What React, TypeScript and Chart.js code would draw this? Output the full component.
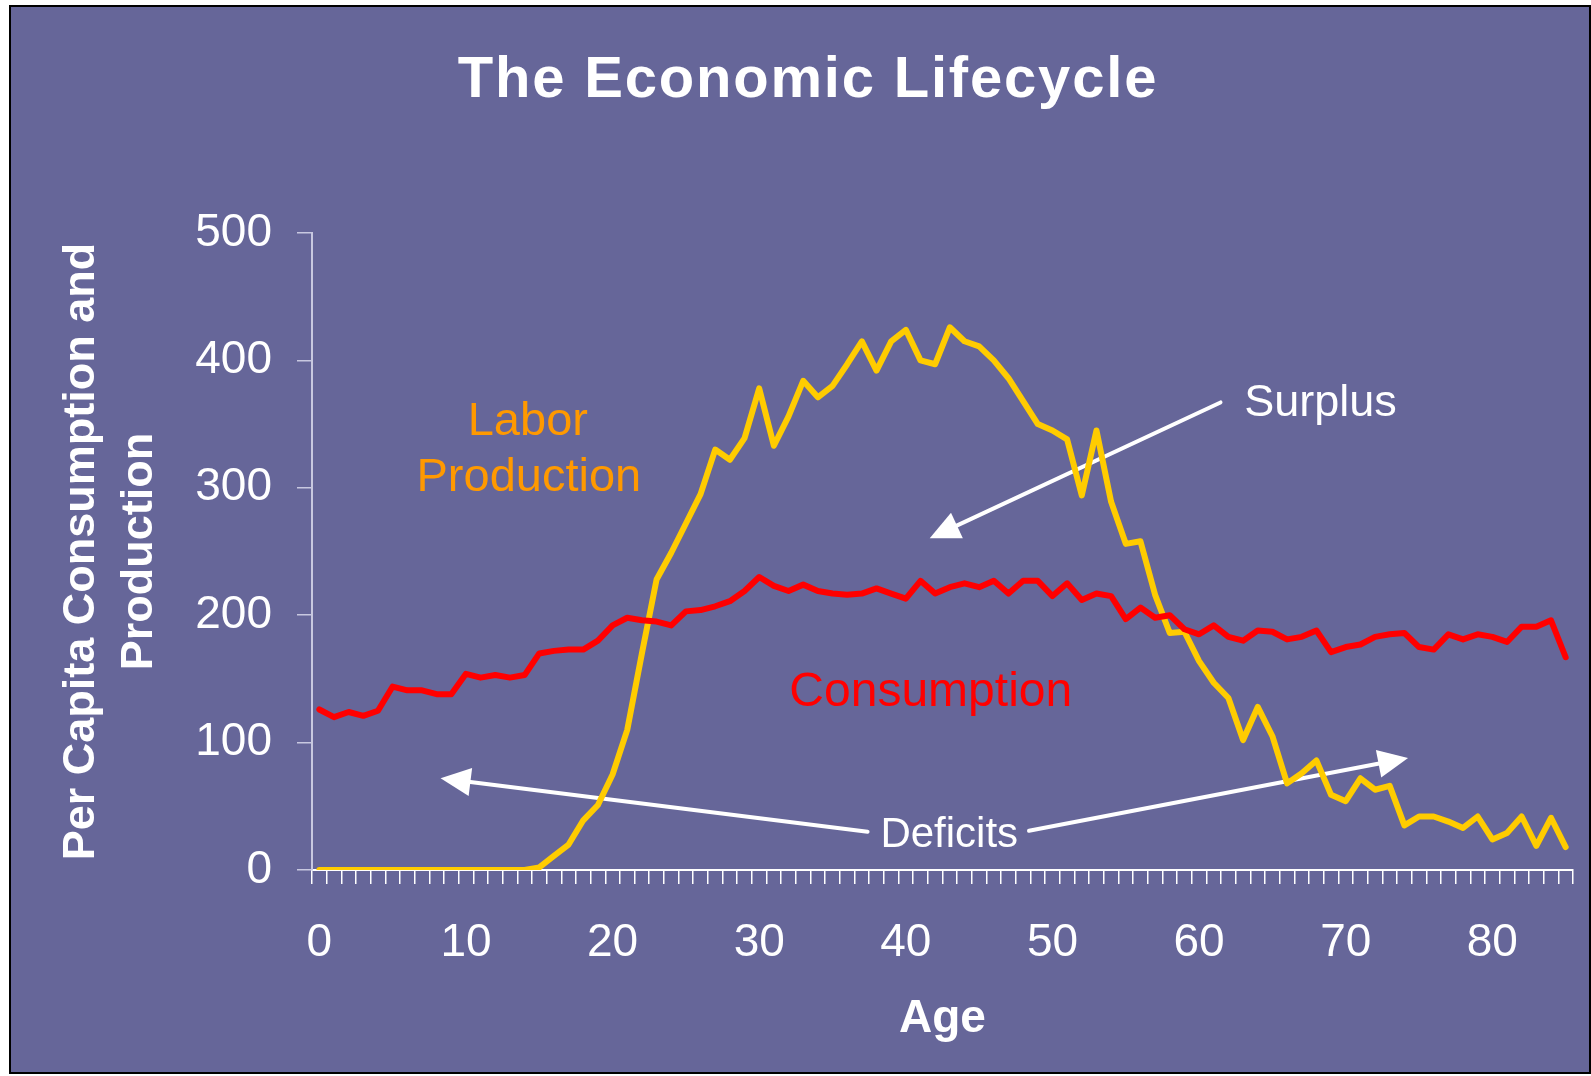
import React, { useEffect, useRef } from 'react';
import { Chart, registerables } from 'chart.js';

Chart.register(...registerables);

const FONT = "'Liberation Sans', Arial, Helvetica, sans-serif";

// ---- data ----
const ages = [
  0, 1, 2, 3, 4, 5, 6, 7, 8, 9, 10, 11, 12, 13, 14, 15, 16, 17, 18, 19,
  20, 21, 22, 23, 24, 25, 26, 27, 28, 29, 30, 31, 32, 33, 34, 35, 36, 37, 38, 39,
  40, 41, 42, 43, 44, 45, 46, 47, 48, 49, 50, 51, 52, 53, 54, 55, 56, 57, 58, 59,
  60, 61, 62, 63, 64, 65, 66, 67, 68, 69, 70, 71, 72, 73, 74, 75, 76, 77, 78, 79,
  80, 81, 82, 83, 84, 85,
];

const xTickLabels = ['0', '10', '20', '30', '40', '50', '60', '70', '80'];
const yMin = 0;
const yMax = 500;
const yStep = 100;

const consumption = [
  126, 120, 124, 121, 125, 144, 141, 141, 138, 138,
  154, 151, 153, 151, 153, 170, 172, 173, 173, 180,
  192, 198, 196, 195, 192, 203, 204, 207, 211, 219,
  230, 223, 219, 224, 219, 217, 216, 217, 221, 217,
  213, 227, 217, 222, 225, 222, 227, 217, 227, 227,
  215, 225, 212, 217, 215, 197, 206, 198, 200, 189,
  185, 192, 183, 180, 188, 187, 181, 183, 188, 171,
  175, 177, 183, 185, 186, 175, 173, 185, 181, 185,
  183, 179, 191, 191, 196, 167,
];

const laborProduction = [
  0, 0, 0, 0, 0, 0, 0, 0, 0, 0,
  0, 0, 0, 0, 0, 2, 11, 20, 39, 51,
  75, 110, 170, 228, 249, 272, 295, 330, 322, 339,
  378, 333, 356, 384, 371, 380, 397, 415, 392, 415,
  424, 400, 397, 426, 415, 411, 400, 386, 368, 350,
  345, 338, 294, 345, 289, 256, 258, 216, 186, 187,
  164, 147, 135, 102, 128, 105, 68, 76, 86, 59,
  54, 72, 63, 66, 35, 42, 42, 38, 33, 42,
  24, 29, 42, 19, 41, 18,
];

const chartTitle = 'The Economic Lifecycle';
const yAxisTitle = ['Per Capita Consumption and', 'Production'];
const xAxisTitle = 'Age';

// annotation texts, anchored in data coordinates (category index, value)
const noteTexts = [
  { text: 'Labor', x: 14.22, y: 341.8, color: '#FF9900', size: 47 },
  { text: 'Production', x: 14.29, y: 297.1, color: '#FF9900', size: 47 },
  { text: 'Consumption', x: 41.7, y: 128.7, color: '#FF0000', size: 48 },
  { text: 'Surplus', x: 68.28, y: 356.4, color: '#FFFFFF', size: 45 },
  { text: 'Deficits', x: 42.96, y: 18.0, color: '#FFFFFF', size: 42 },
];

// arrows in data coordinates: from -> to (tip)
const noteArrows = [
  { from: [61.46, 367.0], to: [41.63, 260.4] },
  { from: [37.39, 30.1], to: [8.27, 72.0] },
  { from: [48.4, 30.8], to: [74.25, 87.9] },
];

const notesPlugin = {
  id: 'notes',
  beforeDatasetsDraw(chart: any) {
    const { ctx } = chart;
    const xs = chart.scales.x;
    const ys = chart.scales.y;
    ctx.save();
    for (const a of noteArrows) {
      const x1 = xs.getPixelForValue(a.from[0]);
      const y1 = ys.getPixelForValue(a.from[1]);
      const x2 = xs.getPixelForValue(a.to[0]);
      const y2 = ys.getPixelForValue(a.to[1]);
      const dx = x2 - x1;
      const dy = y2 - y1;
      const len = Math.sqrt(dx * dx + dy * dy);
      const ux = dx / len;
      const uy = dy / len;
      const headLen = 30;
      const headHalf = 14;
      const bx = x2 - ux * headLen;
      const by = y2 - uy * headLen;
      ctx.strokeStyle = '#FFFFFF';
      ctx.fillStyle = '#FFFFFF';
      ctx.lineWidth = 4;
      ctx.lineCap = 'round';
      ctx.beginPath();
      ctx.moveTo(x1, y1);
      ctx.lineTo(bx + ux * 2, by + uy * 2);
      ctx.stroke();
      ctx.beginPath();
      ctx.moveTo(x2, y2);
      ctx.lineTo(bx - uy * headHalf, by + ux * headHalf);
      ctx.lineTo(bx + uy * headHalf, by - ux * headHalf);
      ctx.closePath();
      ctx.fill();
    }
    ctx.textAlign = 'center';
    ctx.textBaseline = 'alphabetic';
    for (const t of noteTexts) {
      ctx.font = `${t.size}px ${FONT}`;
      ctx.fillStyle = t.color;
      ctx.fillText(t.text, xs.getPixelForValue(t.x), ys.getPixelForValue(t.y));
    }
    ctx.restore();
  },
  afterDraw(chart: any) {
    const { ctx } = chart;
    ctx.save();
    ctx.font = `bold 58px ${FONT}`;
    try {
      (ctx as any).letterSpacing = '1.8px';
    } catch (e) {
      /* ignore */
    }
    ctx.fillStyle = '#FFFFFF';
    ctx.textAlign = 'center';
    ctx.textBaseline = 'alphabetic';
    ctx.fillText(chartTitle, chart.width / 2 + 8, 90);
    ctx.restore();
  },
};

export default function App() {
  const canvasRef = useRef<HTMLCanvasElement | null>(null);

  useEffect(() => {
    if (!canvasRef.current) return;
    const chart = new Chart(canvasRef.current, {
      type: 'line',
      data: {
        labels: ages.map((a) => String(a)),
        datasets: [
          {
            label: 'Consumption',
            data: consumption,
            borderColor: '#FF0000',
            backgroundColor: '#FF0000',
            borderWidth: 6,
            pointRadius: 0,
            tension: 0,
            borderJoinStyle: 'round',
            borderCapStyle: 'round',
            fill: false,
          },
          {
            label: 'Labor Production',
            data: laborProduction,
            borderColor: '#FFCC00',
            backgroundColor: '#FFCC00',
            borderWidth: 6,
            pointRadius: 0,
            tension: 0,
            borderJoinStyle: 'round',
            borderCapStyle: 'round',
            fill: false,
          },
        ],
      },
      options: {
        animation: false,
        responsive: false,
        maintainAspectRatio: false,
        devicePixelRatio: 1,
        layout: { padding: { top: 226, right: 16, bottom: 0, left: 0 } },
        plugins: {
          legend: { display: false },
          tooltip: { enabled: false },
          title: { display: false },
        },
        scales: {
          x: {
            type: 'category',
            offset: true,
            grid: {
              offset: true,
              drawOnChartArea: false,
              drawTicks: true,
              tickLength: 14,
              color: '#FFFFFF',
              lineWidth: 1.5,
            },
            border: { display: true, color: '#FFFFFF', width: 2 },
            ticks: {
              autoSkip: false,
              maxRotation: 0,
              minRotation: 0,
              color: '#FFFFFF',
              padding: 32,
              font: { family: FONT, size: 46 },
              callback: (_v: any, i: number) => {
                const lbl = String(ages[i]);
                return xTickLabels.includes(lbl) ? lbl : '';
              },
            },
            title: {
              display: true,
              text: xAxisTitle,
              color: '#FFFFFF',
              font: { family: FONT, size: 46, weight: 'bold' },
              padding: { top: 0, bottom: 25 },
            },
            afterFit: (scale: any) => {
              scale.height = 202;
              scale.paddingLeft = 0;
              scale.paddingRight = 0;
            },
          },
          y: {
            min: yMin,
            max: yMax,
            grid: {
              drawOnChartArea: false,
              drawTicks: true,
              tickLength: 15,
              color: '#C8C8E0',
              lineWidth: 1.5,
            },
            border: { display: true, color: '#C8C8E0', width: 2 },
            ticks: {
              stepSize: yStep,
              color: '#FFFFFF',
              padding: 25,
              font: { family: FONT, size: 46 },
            },
            title: {
              display: true,
              text: yAxisTitle,
              color: '#FFFFFF',
              font: { family: FONT, size: 45, weight: 'bold', lineHeight: 1.28 },
              padding: { top: 42, bottom: 0 },
            },
            afterFit: (scale: any) => {
              scale.width = 301;
            },
          },
        },
      },
      plugins: [notesPlugin],
    } as any);
    return () => chart.destroy();
  }, []);

  return (
    <div
      style={{
        position: 'fixed',
        left: 9,
        top: 5,
        width: 1582,
        height: 1069,
        border: '2px solid #000000',
        boxSizing: 'border-box',
        background: '#666699',
        overflow: 'hidden',
      }}
    >
      <canvas
        ref={canvasRef}
        width={1578}
        height={1065}
        style={{ display: 'block', width: 1578, height: 1065 }}
      />
    </div>
  );
}
